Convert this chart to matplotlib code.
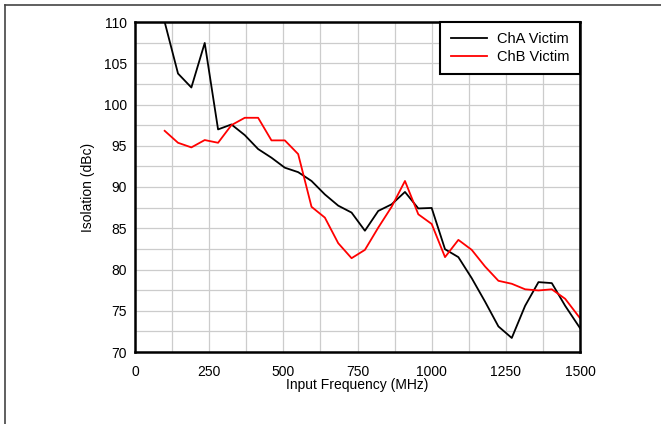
import numpy as np
import matplotlib
matplotlib.use("Agg")
import matplotlib.pyplot as plt
from matplotlib.lines import Line2D


# input frequency (MHz)
freq = [100, 145, 190, 235, 280, 325, 370, 415, 460, 505, 550, 595, 640, 685,
        730, 775, 820, 865, 910, 955, 1000, 1045, 1090, 1135, 1180, 1225,
        1270, 1315, 1360, 1405, 1450, 1500]

cha_victim = [110.0, 103.75, 102.06, 107.46, 96.98, 97.58, 96.29, 94.6, 93.55,
              92.34, 91.8, 90.73, 89.1, 87.74, 86.9, 84.7, 87.1, 87.9, 89.4,
              87.4, 87.46, 82.46, 81.5, 78.95, 76.1, 73.1, 71.7, 75.6, 78.47,
              78.35, 75.6, 72.9]

chb_victim = [96.81, 95.36, 94.8, 95.69, 95.36, 97.5, 98.39, 98.39, 95.65,
              95.65, 93.99, 87.6, 86.29, 83.19, 81.37, 82.38, 85.08, 87.6,
              90.73, 86.69, 85.52, 81.5, 83.59, 82.38, 80.36, 78.63, 78.27,
              77.6, 77.46, 77.6, 76.45, 74.1]

x_ticks = [0, 250, 500, 750, 1000, 1250, 1500]
y_ticks = [70, 75, 80, 85, 90, 95, 100, 105, 110]


def main():
    plt.rcParams["font.family"] = ["Liberation Sans", "DejaVu Sans"]
    plt.rcParams["font.size"] = 10

    fig = plt.figure(figsize=(6.61, 4.24), dpi=100)
    ax = fig.add_axes([135 / 661, 72 / 424, 445 / 661, 330 / 424])

    # outer frame of the original figure (top and left edges only visible)
    fig.add_artist(Line2D([4.5 / 661, 4.5 / 661], [0, 1 - 4.5 / 424],
                          transform=fig.transFigure, color="#444444", lw=1.2))
    fig.add_artist(Line2D([4.5 / 661, 1], [1 - 4.5 / 424, 1 - 4.5 / 424],
                          transform=fig.transFigure, color="#444444", lw=1.2))

    ax.plot(freq, cha_victim, color="black", lw=1.3, label="ChA Victim")
    ax.plot(freq, chb_victim, color="#ff0000", lw=1.3, label="ChB Victim")

    ax.set_xlim(0, 1500)
    ax.set_ylim(70, 110)
    ax.set_xticks(x_ticks)
    ax.set_yticks(y_ticks)
    ax.set_xticks(np.arange(0, 1501, 125), minor=True)
    ax.set_yticks(np.arange(70, 110.1, 2.5), minor=True)

    ax.grid(which="both", color="#cccccc", lw=0.9)
    ax.set_axisbelow(True)
    ax.tick_params(which="both", length=0)
    ax.tick_params(axis="x", pad=9)
    ax.tick_params(axis="y", pad=6)

    for s in ax.spines.values():
        s.set_linewidth(1.8)
        s.set_color("black")

    ax.set_xlabel("Input Frequency (MHz)", labelpad=0)
    ax.set_ylabel("Isolation (dBc)", labelpad=6)

    leg = ax.legend(loc="upper right", bbox_to_anchor=(1, 1), borderaxespad=0,
                    fancybox=False, framealpha=1, edgecolor="black",
                    handlelength=2.5, handletextpad=0.7, labelspacing=0.25,
                    borderpad=0.7, fontsize=10.5)
    leg.get_frame().set_linewidth(1.5)

    fig.savefig("out.png", dpi=100)
    plt.close(fig)


if __name__ == "__main__":
    main()
